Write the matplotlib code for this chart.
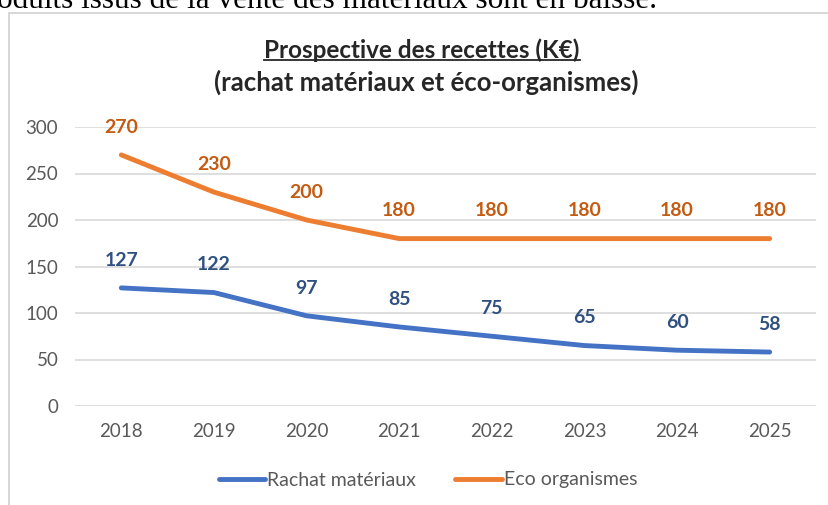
import matplotlib.pyplot as plt
from matplotlib.patches import Rectangle
from matplotlib.lines import Line2D

years = ["2018", "2019", "2020", "2021", "2022", "2023", "2024", "2025"]
rachat = [127, 122, 97, 85, 75, 65, 60, 58]
eco = [270, 230, 200, 180, 180, 180, 180, 180]

BLUE = "#4472C4"
ORANGE = "#ED7D31"
BLUE_LBL = "#2F5080"
ORANGE_LBL = "#C55A11"
GREY = "#595959"

plt.rcParams["font.family"] = ["Lato", "DejaVu Sans"]

fig = plt.figure(figsize=(8.29, 5.05), dpi=100)
W, H = 829, 505

# frame around the chart
fig.patches.append(Rectangle((9 / W, -0.05), 1.0, 1 - 13 / H + 0.05,
                             transform=fig.transFigure, fill=False,
                             edgecolor="#D0D0D0", linewidth=1.2))

# text line from the document above the chart
fig.text(-3 / W, 1 - 8 / H, "oduits issus de la vente des matériaux sont en baisse.",
         family="Liberation Serif", fontsize=22.5, color="black", va="baseline")

t1 = fig.text(422 / W, 1 - 50 / H, "Prospective des recettes (K€)", ha="center",
              va="center", fontsize=17.5, fontweight="bold", color="#262626")
fig.text(426 / W, 1 - 82 / H, "(rachat matériaux et éco-organismes)", ha="center",
         va="center", fontsize=18.5, fontweight="bold", color="#262626")

# underline the first title line
fig.canvas.draw()
bb = t1.get_window_extent().transformed(fig.transFigure.inverted())
fig.add_artist(Line2D([bb.x0, bb.x1], [bb.y0 + 2 / H] * 2,
                      transform=fig.transFigure, color="#262626", linewidth=1.3))

ax = fig.add_axes([75 / W, 1 - 406 / H, (816 - 75) / W, (406 - 127) / H])
x = range(len(years))
ax.plot(x, rachat, color=BLUE, linewidth=3.5, solid_capstyle="round",
        label="Rachat matériaux", clip_on=False)
ax.plot(x, eco, color=ORANGE, linewidth=3.5, solid_capstyle="round",
        label="Eco organismes", clip_on=False)

for i in x:
    ax.annotate(str(rachat[i]), (i, rachat[i]), xytext=(0, 20), textcoords="offset points",
                ha="center", va="center", fontsize=14, fontweight="bold", color=BLUE_LBL)
    ax.annotate(str(eco[i]), (i, eco[i]), xytext=(0, 20), textcoords="offset points",
                ha="center", va="center", fontsize=14, fontweight="bold", color=ORANGE_LBL)

ax.set_xlim(-0.5, len(years) - 0.5)
ax.set_ylim(0, 300)
ax.set_yticks(range(0, 301, 50))
ax.set_xticks(list(x))
ax.set_xticklabels(years)
ax.grid(axis="y", color="#D9D9D9", linewidth=1.2)
ax.set_axisbelow(True)
for s in ax.spines.values():
    s.set_visible(False)
ax.tick_params(length=0, labelsize=13.5, labelcolor=GREY)
ax.tick_params(axis="y", pad=12)
ax.tick_params(axis="x", pad=12)

fig.legend(loc="center", bbox_to_anchor=(428 / W, 1 - 480 / H), ncol=2, frameon=False,
           fontsize=14, labelcolor=GREY, handlelength=2.4, handletextpad=0.1,
           columnspacing=2.0)

fig.savefig("out.png", dpi=100)
